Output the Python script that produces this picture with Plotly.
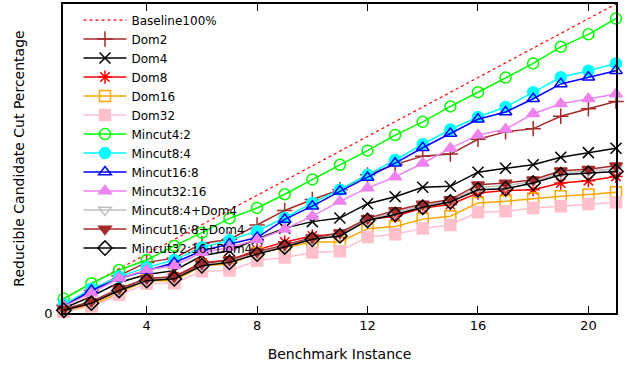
import plotly.graph_objects as go

instances = list(range(1, 22))
baseline = [float(i) for i in instances]

dom2 = [0.52, 1.53, 2.54, 3.44, 3.73, 4.72, 5.01, 5.98, 6.97, 7.71, 8.38, 9.39, 10.09, 10.66, 10.80, 11.81, 12.31, 12.53, 13.37, 13.88, 14.38]
dom4 = [0.32, 1.13, 2.07, 2.61, 2.88, 3.89, 4.23, 5.03, 5.77, 6.21, 6.45, 7.43, 7.90, 8.54, 8.61, 9.57, 9.84, 10.07, 10.59, 10.90, 11.20]
dom8 = [0.18, 0.65, 1.60, 2.27, 2.47, 3.42, 3.58, 4.29, 4.83, 5.24, 5.35, 6.36, 6.58, 7.14, 7.37, 8.15, 8.32, 8.38, 8.83, 8.99, 9.28]
dom16 = [0.11, 0.52, 1.39, 2.20, 2.20, 3.21, 3.33, 4.06, 4.45, 4.83, 4.83, 5.73, 5.88, 6.38, 6.58, 7.48, 7.59, 7.78, 7.93, 8.05, 8.20]
dom32 = [0.07, 0.45, 1.24, 1.98, 2.02, 2.83, 2.88, 3.55, 3.77, 4.11, 4.20, 5.17, 5.35, 5.75, 5.98, 6.85, 6.92, 7.14, 7.26, 7.41, 7.53]
mincut4_2 = [0.97, 2.02, 2.92, 3.60, 4.56, 5.46, 6.43, 7.14, 8.07, 9.08, 10.07, 11.03, 12.09, 12.99, 14.04, 15.00, 16.00, 16.96, 18.09, 18.94, 20.01]
mincut8_4 = [0.59, 1.64, 2.47, 3.10, 3.60, 4.45, 4.95, 5.57, 6.47, 7.48, 8.38, 9.39, 10.40, 11.47, 12.47, 13.32, 14.00, 15.00, 16.02, 16.47, 16.96]
mincut16_8 = [0.45, 1.53, 2.34, 2.88, 3.42, 4.23, 4.70, 5.13, 6.36, 7.26, 8.27, 9.21, 10.18, 11.23, 12.20, 13.17, 13.66, 14.56, 15.57, 16.02, 16.47]
mincut32_16 = [0.45, 1.35, 2.36, 2.92, 3.21, 4.11, 4.45, 4.98, 5.69, 6.58, 7.59, 8.50, 9.25, 10.18, 11.19, 12.09, 12.49, 13.54, 14.22, 14.56, 14.89]
mincut8_4_dom4 = [0.22, 0.73, 1.60, 2.27, 2.40, 3.28, 3.53, 4.08, 4.56, 5.06, 5.35, 6.36, 6.83, 7.30, 7.63, 8.55, 8.64, 8.95, 9.52, 9.64, 9.81]
mincut16_8_dom4 = [0.25, 0.79, 1.66, 2.34, 2.47, 3.35, 3.62, 4.16, 4.63, 5.12, 5.46, 6.43, 6.97, 7.41, 7.71, 8.72, 8.83, 9.06, 9.66, 9.77, 10.00]
mincut32_16_dom4 = [0.18, 0.67, 1.53, 2.20, 2.32, 3.21, 3.44, 4.00, 4.49, 5.01, 5.24, 6.29, 6.70, 7.19, 7.55, 8.38, 8.45, 8.83, 9.39, 9.50, 9.62]

x_ticks = [4, 8, 12, 16, 20]

series = [
    ("Dom2", dom2, "#A52A2A", "cross-thin-open"),
    ("Dom4", dom4, "#000000", "x-thin-open"),
    ("Dom8", dom8, "#FF0000", "asterisk-open"),
    ("Dom16", dom16, "#FFA500", "square-open"),
    ("Dom32", dom32, "#FFC0CB", "square"),
    ("Mincut4:2", mincut4_2, "#00FF00", "circle-open"),
    ("Mincut8:4", mincut8_4, "#00FFFF", "circle"),
    ("Mincut16:8", mincut16_8, "#0000FF", "triangle-up-open"),
    ("Mincut32:16", mincut32_16, "#EE82EE", "triangle-up"),
    ("Mincut8:4+Dom4", mincut8_4_dom4, "#C0C0C0", "triangle-down-open"),
    ("Mincut16:8+Dom4", mincut16_8_dom4, "#A52A2A", "triangle-down"),
    ("Mincut32:16+Dom4", mincut32_16_dom4, "#000000", "diamond-open"),
]

FONT = "DejaVu Sans"
fig = go.Figure()
fig.add_trace(go.Scatter(
    x=instances, y=baseline, mode="lines", name="Baseline100%",
    line=dict(color="#FF0000", width=1.2, dash="dot"), cliponaxis=False,
))
for name, vals, color, sym in series:
    fig.add_trace(go.Scatter(
        x=instances, y=vals, mode="lines+markers", name=name,
        line=dict(color=color, width=1.5),
        marker=dict(symbol=sym, size=11, color=color, line=dict(color=color, width=1.5)),
        cliponaxis=False,
    ))

fig.update_layout(
    width=628, height=367,
    margin=dict(l=63, r=12, t=2, b=54),
    paper_bgcolor="white", plot_bgcolor="white",
    font=dict(family=FONT, size=13, color="black"),
    showlegend=True,
    legend=dict(
        x=0.028, y=0.995, xanchor="left", yanchor="top",
        bgcolor="rgba(0,0,0,0)", font=dict(family=FONT, size=12, color="black"),
        itemwidth=43, tracegroupgap=0,
    ),
    xaxis=dict(
        range=[0.97, 21], tickvals=x_ticks, ticks="inside", ticklen=7, tickwidth=1,
        tickcolor="black", showline=True, linecolor="black", linewidth=1.5,
        mirror="allticks", showgrid=False, zeroline=False,
        title=dict(text="Benchmark Instance", font=dict(family=FONT, size=14), standoff=17),
        tickfont=dict(family=FONT, size=13),
    ),
    yaxis=dict(
        range=[0, 21], tickvals=[0], ticktext=["0"], ticks="inside", ticklen=7,
        tickcolor="black", showline=True, linecolor="black", linewidth=1.5,
        mirror="allticks", showgrid=False, zeroline=False,
        ticklabelstandoff=6,
        title=dict(text="Reducible Candidate Cut Percentage", font=dict(family=FONT, size=14), standoff=16),
        tickfont=dict(family=FONT, size=13),
    ),
)

fig.write_html("out.html")
